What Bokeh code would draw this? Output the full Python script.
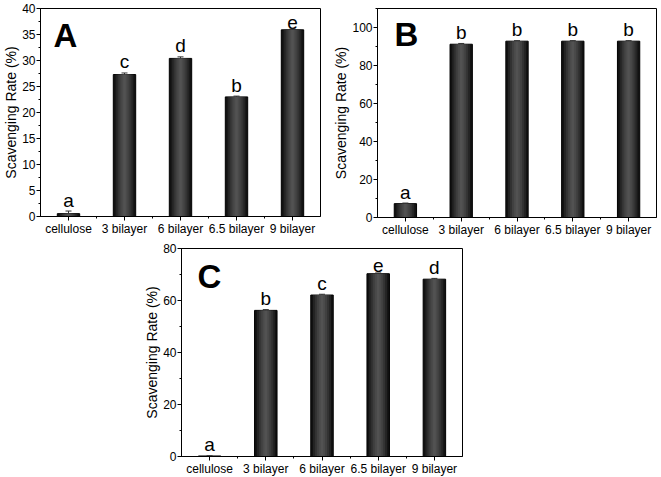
from bokeh.plotting import figure
from bokeh.models import (ColumnDataSource, Range1d, FixedTicker, SingleIntervalTicker,
                          Whisker, TeeHead, Label, Spacer)
from bokeh.layouts import row, column
from bokeh.embed import file_html
from bokeh.resources import INLINE
from bokeh.core.properties import value

categories = ["cellulose", "3 bilayer", "6 bilayer", "6.5 bilayer", "9 bilayer"]

values_a = [0.55, 27.3, 30.4, 23.0, 35.9]
errors_a = [0.5, 0.3, 0.3, 0.15, 0.15]
letters_a = ["a", "c", "d", "b", "e"]

values_b = [7.3, 91.2, 92.8, 92.8, 92.8]
errors_b = [0.3, 0.4, 0.3, 0.3, 0.3]
letters_b = ["a", "b", "b", "b", "b"]

values_c = [0.2, 56.2, 62.1, 70.3, 68.2]
errors_c = [0.1, 0.3, 0.3, 0.3, 0.3]
letters_c = ["a", "b", "c", "e", "d"]

FONT = "Liberation Sans"
LAYER_FRACS = [1.0, 0.8, 0.62, 0.45, 0.28, 0.12]
LAYER_COLORS = ["#121212", "#242424", "#333333", "#404040", "#4a4a4a", "#525252"]


def make_panel(vals, errs, letters, ymax, interval, panel_letter, letter_dx,
               letter_px, frame_w, frame_h, borders):
    bl, br, bt, bb = borders
    p = figure(output_backend="svg", toolbar_location=None,
               frame_width=frame_w, frame_height=frame_h,
               min_border_left=bl, min_border_right=br,
               min_border_top=bt, min_border_bottom=bb,
               x_range=Range1d(-0.5, 4.5), y_range=Range1d(0, ymax))
    p.grid.visible = False
    p.outline_line_color = "black"
    p.outline_line_width = 1
    p.outline_line_alpha = 1
    p.background_fill_color = "white"
    p.border_fill_color = "white"

    xs = list(range(len(categories)))
    tops = [v + e for v, e in zip(vals, errs)]
    upp = ymax / frame_h  # data units per pixel
    src = ColumnDataSource(dict(x=xs, v=vals, upper=tops,
                                ly=[t + 0.5 * upp for t in tops], lab=letters))

    for i, (f, c) in enumerate(zip(LAYER_FRACS, LAYER_COLORS)):
        p.vbar(x="x", top="v", bottom=0, width=0.4 * f, source=src,
               fill_color=c, line_color="black" if i == 0 else None,
               line_width=1)

    w = Whisker(source=src, base="x", upper="upper", lower="v",
                line_color="#333333", line_width=1,
                upper_head=TeeHead(size=6, line_color="#333333", line_width=1),
                lower_head=None, level="overlay")
    p.add_layout(w)

    p.text(x="x", y="ly", text="lab", source=src, text_align="center",
           text_baseline="bottom", text_font=value(FONT),
           text_font_size="19px", text_color="black")

    p.add_layout(Label(x=-0.5 + letter_dx / (frame_w / 5.0),
                       y=ymax - letter_px * upp, text=panel_letter,
                       text_font=FONT,
                       text_font_size="33px", text_font_style="bold",
                       text_align="left", text_baseline="bottom",
                       text_color="black"))

    # x axis
    xa = p.xaxis[0]
    xa.ticker = FixedTicker(ticks=xs, minor_ticks=[0.5, 1.5, 2.5, 3.5])
    xa.major_label_overrides = {i: c for i, c in enumerate(categories)}
    # y axis
    ya = p.yaxis[0]
    ya.ticker = SingleIntervalTicker(interval=interval, num_minor_ticks=2)
    ya.axis_label = "Scavenging Rate (%)"
    for ax in (xa, ya):
        ax.axis_line_color = "black"
        ax.axis_line_width = 1
        ax.major_tick_line_color = "black"
        ax.minor_tick_line_color = "black"
        ax.major_tick_in = 0
        ax.major_tick_out = 4
        ax.minor_tick_in = 0
        ax.minor_tick_out = 2
        ax.major_label_text_font = FONT
        ax.major_label_text_font_size = "12px"
        ax.major_label_text_color = "black"
        ax.axis_label_text_font = FONT
        ax.axis_label_text_font_size = "14px"
        ax.axis_label_text_font_style = "normal"
        ax.axis_label_text_color = "black"
        ax.major_label_standoff = 1
        ax.axis_label_standoff = 0
    xa.major_label_standoff = 1
    return p


pA = make_panel(values_a, errors_a, letters_a, 40, 5, "A", 13, 45,
                280, 208, (40, 10, 6, 26))
pB = make_panel(values_b, errors_b, letters_b, 110, 20, "B", 17, 44,
                279, 209, (46, 2, 8, 23))
pC = make_panel(values_c, errors_c, letters_c, 80, 20, "C", 16, 46,
                281, 208, (46, 10, 8, 20))

layout = column(row(pA, pB), row(Spacer(width=135, height=10), pC))

open("out.html", "w").write(file_html(layout, INLINE))
